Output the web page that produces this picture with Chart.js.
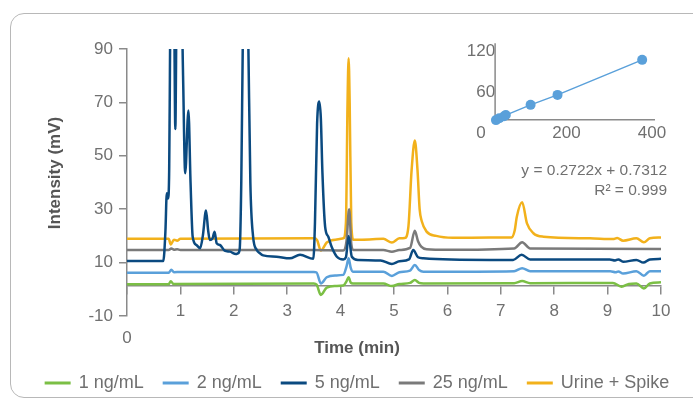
<!DOCTYPE html>
<html>
<head>
<meta charset="utf-8">
<script src="https://cdn.jsdelivr.net/npm/chart.js@4.4.1/dist/chart.umd.min.js"></script>
<style>
  html, body { margin: 0; padding: 0; background: #fff; }
  #wrap { position: relative; width: 693px; height: 400px; overflow: hidden; }
  #frame { position: absolute; left: 10px; top: 13px; width: 720px; height: 383px; border: 1.5px solid #b8b8b8; border-radius: 14px; }
  #main { position: absolute; left: 0; top: 0; }
  #inset { position: absolute; left: 440px; top: 20px; }
</style>
</head>
<body>
<div id="wrap">
  <div id="frame"></div>
  <canvas id="main" width="693" height="400"></canvas>
  <canvas id="inset" width="240" height="130"></canvas>
</div>
<script>
// chromatograms, time (min) / intensity (mV)
const t1 = [0, 0.78, 0.82, 0.87, 3.50, 3.55, 3.63, 3.74, 3.90, 4.05, 4.11, 4.15, 4.19, 4.23, 4.80, 4.96, 5.10, 5.30, 5.39, 5.47, 5.55, 7.25, 7.40, 7.55, 9.10, 9.26, 9.40, 9.54, 9.68, 9.79, 10];
const v1 = [1.9, 1.9, 3.0, 2.0, 2.2, 1.8, -2.1, 0.6, 1.2, 1.4, 3.0, 4.5, 2.5, 2.2, 2.2, 1.2, 2.0, 2.4, 3.5, 2.4, 2.2, 2.3, 3.1, 2.3, 2.4, 1.0, 2.0, 2.2, 0.3, 2.2, 2.6];

const t2 = [0, 0.78, 0.83, 0.88, 1.00, 3.50, 3.55, 3.63, 3.74, 3.90, 4.05, 4.11, 4.15, 4.19, 4.23, 4.80, 4.96, 5.10, 5.30, 5.39, 5.47, 5.55, 7.25, 7.40, 7.55, 9.05, 9.15, 9.20, 9.29, 9.54, 9.68, 9.79, 10];
const v2 = [6.2, 6.2, 7.3, 6.4, 6.5, 6.5, 6.3, 2.2, 4.5, 5.2, 5.4, 8.5, 11.6, 8.0, 6.6, 6.6, 5.0, 6.4, 7.0, 9.1, 7.2, 6.6, 6.8, 7.9, 6.8, 6.8, 6.4, 6.7, 5.9, 6.8, 5.1, 6.8, 6.8];

const t5 = [0, 0.68, 0.72, 0.745, 0.77, 0.79, 0.80, 0.82, 0.88, 0.905, 0.93, 1.00, 1.05, 1.09, 1.15, 1.19, 1.23, 1.30, 1.37, 1.42, 1.48, 1.52, 1.55, 1.60, 1.64, 1.68, 1.74, 1.83, 1.93, 2.04, 2.08, 2.11, 2.14, 2.17, 2.22, 2.27, 2.31, 2.36, 2.43, 2.49, 2.55, 2.80, 3.05, 3.24, 3.49, 3.52, 3.56, 3.60, 3.63, 3.66, 3.71, 3.77, 3.83, 3.93, 4.05, 4.10, 4.15, 4.21, 4.33, 4.75, 4.96, 5.10, 5.28, 5.36, 5.45, 5.55, 6.80, 7.23, 7.39, 7.55, 9.04, 9.14, 9.20, 9.29, 9.54, 9.67, 9.79, 10];
const v5 = [10.6, 10.6, 22, 36, 34, 45, 70, 120, 110, 60, 110, 130, 80, 43.5, 67, 40, 19.7, 16.6, 15.4, 20, 29.5, 22, 18.5, 19, 21.6, 17.2, 16.6, 14.5, 14.1, 13.2, 13.5, 15, 40, 95, 150, 95, 40, 20, 14.7, 13.5, 12.7, 12.2, 11.6, 12.9, 11.4, 25, 62, 70.3, 64, 43.5, 23.5, 19.7, 16, 12.2, 11.2, 12, 20, 12.2, 11, 10.8, 9.5, 10.5, 11.2, 14.7, 12, 11.6, 11, 11, 12.9, 11.2, 11.2, 10.8, 11.2, 10.3, 11, 10, 11.2, 11.4];

const t25 = [0, 0.78, 0.83, 0.88, 0.94, 1.00, 3.50, 4.05, 4.11, 4.16, 4.20, 4.24, 4.80, 4.96, 5.10, 5.30, 5.39, 5.45, 5.51, 5.61, 6.00, 7.25, 7.40, 7.55, 10];
const v25 = [14.7, 14.7, 15.3, 14.8, 15.0, 14.7, 14.7, 14.5, 18, 30, 17, 14.7, 14.7, 14.1, 14.7, 15.5, 21.9, 18, 16, 15, 14.8, 15.3, 17.6, 15.3, 15.1];

const tU = [0, 0.78, 0.82, 0.88, 0.94, 1.00, 3.50, 3.56, 3.63, 3.74, 3.90, 4.05, 4.10, 4.13, 4.15, 4.17, 4.20, 4.24, 4.40, 4.80, 4.96, 5.10, 5.20, 5.27, 5.33, 5.39, 5.44, 5.48, 5.52, 5.61, 5.79, 6.10, 6.80, 7.20, 7.26, 7.30, 7.40, 7.49, 7.61, 7.80, 8.67, 9.10, 9.18, 9.29, 9.54, 9.68, 9.79, 10];
const vU = [18.9, 18.9, 16.8, 18.6, 18.2, 18.9, 19.1, 18.4, 14.5, 17.5, 18.6, 19.1, 25, 70, 86.5, 70, 25, 18.6, 18.6, 18.9, 17.5, 19.1, 19.2, 23.5, 44.7, 55.7, 44.7, 30, 25.5, 21.6, 20, 19.3, 19.4, 19.4, 22, 27.2, 32.6, 24.7, 21, 19.7, 19.1, 18.8, 19.2, 18.2, 19.1, 17.6, 19.1, 19.4];

const seriesNames = ['1 ng/mL', '2 ng/mL', '5 ng/mL', '25 ng/mL', 'Urine + Spike'];
const seriesColors = ['#7bbf45', '#5aa0da', '#0b4a80', '#7a7a7a', '#f2b11b'];

// calibration inset
const calX = [35, 43, 54, 58, 116, 179, 377];
const calY = [18.6, 21.5, 24.4, 26, 41, 55.6, 107];

const fam = "'Liberation Sans', Arial, sans-serif";
Chart.defaults.font.family = fam;
Chart.defaults.color = '#707070';

function pts(t, v) {
  return t.map((x, i) => ({ x: x, y: v[i] }));
}

const traces = [[t1, v1], [t2, v2], [t5, v5], [t25, v25], [tU, vU]];
const datasets = traces.map((tr, i) => ({
  label: seriesNames[i],
  data: pts(tr[0], tr[1]),
  borderColor: seriesColors[i],
  backgroundColor: seriesColors[i],
  borderWidth: 2.5,
  pointRadius: 0,
  cubicInterpolationMode: 'monotone'
}));

const decor = {
  id: 'decor',
  afterDraw(chart) {
    const ctx = chart.ctx;
    ctx.save();
    ctx.fillStyle = '#555';
    ctx.font = 'bold 17px ' + fam;
    ctx.textAlign = 'center';
    ctx.textBaseline = 'middle';
    ctx.fillText('Time (min)', 357, 348);
    ctx.save();
    ctx.translate(55, 173);
    ctx.rotate(-Math.PI / 2);
    ctx.fillText('Intensity (mV)', 0, 0);
    ctx.restore();

    ctx.fillStyle = '#707070';
    ctx.font = '17px ' + fam;
    ctx.fillText('0', 127, 338);

    // equation of the inset fit
    ctx.font = '15.5px ' + fam;
    ctx.textAlign = 'right';
    ctx.fillText('y = 0.2722x + 0.7312', 667, 171);
    ctx.fillText('R² = 0.999', 667, 191);

    // legend
    ctx.font = '18px ' + fam;
    ctx.textAlign = 'left';
    const gap = 19, line = 26;
    const ws = chart.data.datasets.map(d => ctx.measureText(d.label).width);
    let total = ws.reduce((a, w) => a + line + 8 + w, 0) + gap * (ws.length - 1);
    let x = 357 - total / 2;
    const y = 383;
    chart.data.datasets.forEach((d, i) => {
      ctx.strokeStyle = d.borderColor;
      ctx.lineWidth = 3;
      ctx.beginPath();
      ctx.moveTo(x, y);
      ctx.lineTo(x + line, y);
      ctx.stroke();
      ctx.fillText(d.label, x + line + 8, y);
      x += line + 8 + ws[i] + gap;
    });
    ctx.restore();
  }
};

new Chart(document.getElementById('main'), {
  type: 'line',
  data: { datasets: datasets },
  options: {
    responsive: false,
    animation: false,
    devicePixelRatio: 1,
    layout: { padding: { top: 49, bottom: 84, left: 0, right: 32 } },
    plugins: { legend: { display: false }, tooltip: { enabled: false } },
    scales: {
      x: {
        type: 'linear',
        min: 0,
        max: 10,
        position: { y: 1.5 },
        border: { color: '#8a8a8a', width: 1.5 },
        grid: { drawOnChartArea: false, tickLength: 8, color: '#8a8a8a', lineWidth: 1.5 },
        ticks: { stepSize: 1, padding: 8, font: { size: 17 }, callback: v => v === 0 ? '' : v }
      },
      y: {
        min: -10,
        max: 90,
        border: { color: '#8a8a8a', width: 1.5 },
        grid: { drawOnChartArea: false, tickLength: 8, color: '#8a8a8a', lineWidth: 1.5 },
        ticks: { stepSize: 20, padding: 6, font: { size: 17 } },
        afterFit: s => { s.width = 127; }
      }
    }
  },
  plugins: [decor]
});

const insetAxes = {
  id: 'insetAxes',
  beforeDatasetsDraw(chart) {
    const ctx = chart.ctx, xs = chart.scales.x, ys = chart.scales.y;
    const x0 = xs.getPixelForValue(33), y0 = ys.getPixelForValue(19);
    ctx.save();
    ctx.strokeStyle = '#8a8a8a';
    ctx.lineWidth = 1.5;
    ctx.beginPath();
    ctx.moveTo(x0, ys.getPixelForValue(131.5));
    ctx.lineTo(x0, y0);
    ctx.lineTo(xs.getPixelForValue(407), y0);
    ctx.stroke();
    ctx.restore();
  }
};

new Chart(document.getElementById('inset'), {
  type: 'line',
  data: {
    datasets: [{
      data: pts(calX, calY),
      borderColor: '#5aa0da',
      backgroundColor: '#5aa0da',
      borderWidth: 1.5,
      pointRadius: 5,
      pointBorderWidth: 0
    }]
  },
  options: {
    responsive: false,
    animation: false,
    devicePixelRatio: 1,
    layout: { padding: { left: 41, right: 28, top: 31, bottom: 17 } },
    plugins: { legend: { display: false }, tooltip: { enabled: false } },
    scales: {
      x: {
        type: 'linear',
        min: 0,
        max: 400,
        position: { y: 19 },
        border: { display: false },
        grid: { display: false, drawTicks: false },
        ticks: { stepSize: 200, padding: 3, font: { size: 17 } }
      },
      y: {
        min: 0,
        max: 120,
        position: { x: 33 },
        border: { display: false },
        grid: { display: false, drawTicks: false },
        // origin label is shared with the x axis
        ticks: { stepSize: 60, padding: 7, font: { size: 17 }, callback: v => v === 0 ? '' : v }
      }
    }
  },
  plugins: [insetAxes]
});
</script>
</body>
</html>
